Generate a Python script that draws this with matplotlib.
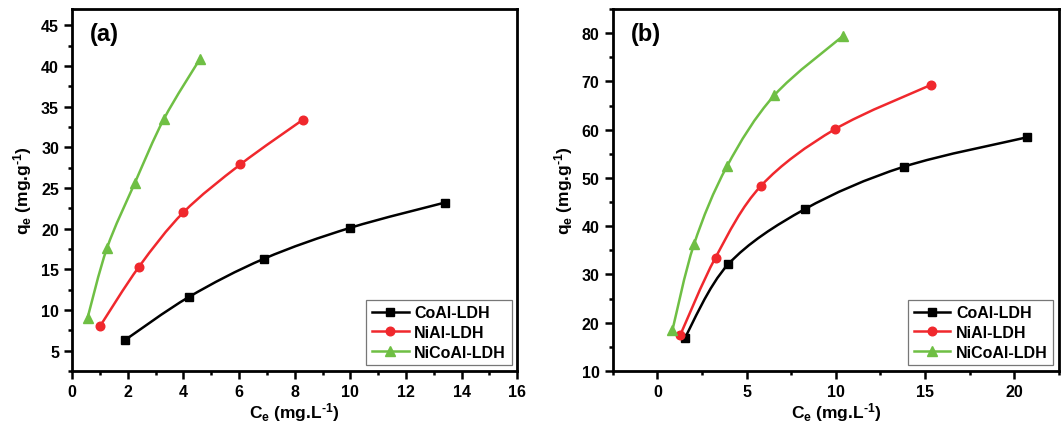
import numpy as np
import matplotlib
matplotlib.use("Agg")
import matplotlib.pyplot as plt
from matplotlib.path import Path
from matplotlib.patches import PathPatch
from matplotlib.lines import Line2D
from matplotlib.ticker import MultipleLocator

plt.rcParams["font.family"] = ["Liberation Sans", "DejaVu Sans"]
plt.rcParams["font.weight"] = "bold"
plt.rcParams["mathtext.fontset"] = "custom"
plt.rcParams["mathtext.rm"] = "Liberation Sans:bold"
plt.rcParams["mathtext.it"] = "Liberation Sans:bold"
plt.rcParams["mathtext.bf"] = "Liberation Sans:bold"
plt.rcParams["mathtext.default"] = "regular"

labels = ["CoAl-LDH", "NiAl-LDH", "NiCoAl-LDH"]
colors = ["black", "#f0282d", "#6fbf44"]
markers = ["s", "o", "^"]

# panel (a)
ce_a = [
    [1.9, 4.2, 6.9, 10.0, 13.4],
    [1.0, 2.4, 4.0, 6.05, 8.3],
    [0.55, 1.25, 2.25, 3.3, 4.6],
]
qe_a = [
    [6.3, 11.6, 16.3, 20.1, 23.2],
    [8.0, 15.3, 22.0, 27.9, 33.4],
    [9.0, 17.6, 25.6, 33.5, 40.9],
]

# panel (b)
ce_b = [
    [1.53, 3.97, 8.25, 13.8, 20.7],
    [1.29, 3.26, 5.82, 9.96, 15.35],
    [0.84, 2.05, 3.9, 6.55, 10.4],
]
qe_b = [
    [16.8, 32.1, 43.5, 52.3, 58.4],
    [17.5, 33.5, 48.4, 60.1, 69.3],
    [18.4, 36.2, 52.4, 67.1, 79.4],
]


def smooth_path(x, y):
    # Catmull-Rom through the points, drawn as cubic Bezier segments
    pts = np.column_stack([np.asarray(x, float), np.asarray(y, float)])
    verts = [pts[0]]
    codes = [Path.MOVETO]
    n = len(pts)
    for i in range(n - 1):
        p0 = pts[i - 1] if i > 0 else pts[i]
        p1 = pts[i]
        p2 = pts[i + 1]
        p3 = pts[i + 2] if i + 2 < n else pts[i + 1]
        verts += [p1 + (p2 - p0) / 6.0, p2 - (p3 - p1) / 6.0, p2]
        codes += [Path.CURVE4] * 3
    return Path(verts, codes)


def msize(m):
    return 7.5 if m == "^" else 6.2


def draw_panel(ax, ce, qe, tag):
    for x, y, c, m in zip(ce, qe, colors, markers):
        ax.add_patch(PathPatch(smooth_path(x, y), facecolor="none",
                               edgecolor=c, lw=1.8, zorder=2))
        ax.plot(x, y, ls="none", marker=m, color=c, ms=msize(m), zorder=3)

    for s in ax.spines.values():
        s.set_linewidth(2.0)
    ax.tick_params(which="both", direction="out", width=1.8, labelsize=11.5,
                   top=False, right=False, pad=4)
    ax.tick_params(which="major", length=5.5)
    ax.tick_params(which="minor", length=3)

    ax.set_xlabel("$C_e$ (mg.L$^{\u2010 1}$)", fontsize=12.5, fontweight="bold", labelpad=1)
    ax.set_ylabel("$q_e$ (mg.g$^{\u2010 1}$)", fontsize=12.5, fontweight="bold", labelpad=5)
    ax.text(0.04, 0.965, tag, transform=ax.transAxes, fontsize=17,
            fontweight="bold", va="top", ha="left")

    handles = [Line2D([], [], color=c, marker=m, lw=1.8, ms=msize(m))
               for c, m in zip(colors, markers)]
    leg = ax.legend(handles, labels, loc="lower right", fontsize=11.5,
                    frameon=True, fancybox=False, handlelength=2.3,
                    handletextpad=0.35, borderpad=0.35, labelspacing=0.3,
                    borderaxespad=0.35)
    leg.get_frame().set_edgecolor("#555555")
    leg.get_frame().set_linewidth(0.9)
    for t in leg.get_texts():
        t.set_fontweight("bold")


fig = plt.figure(figsize=(10.62, 4.35), dpi=100)
ax1 = fig.add_axes([0.068, 0.145, 0.419, 0.832])
ax2 = fig.add_axes([0.577, 0.145, 0.420, 0.832])

draw_panel(ax1, ce_a, qe_a, "(a)")
ax1.set_xlim(0, 16)
ax1.set_ylim(2.5, 47)
ax1.xaxis.set_major_locator(MultipleLocator(2))
ax1.xaxis.set_minor_locator(MultipleLocator(1))
ax1.yaxis.set_major_locator(MultipleLocator(5))
ax1.yaxis.set_minor_locator(MultipleLocator(2.5))

draw_panel(ax2, ce_b, qe_b, "(b)")
ax2.set_xlim(-2.5, 22.5)
ax2.set_ylim(10, 85)
ax2.xaxis.set_major_locator(MultipleLocator(5))
ax2.xaxis.set_minor_locator(MultipleLocator(2.5))
ax2.yaxis.set_major_locator(MultipleLocator(10))
ax2.yaxis.set_minor_locator(MultipleLocator(5))

for ax in (ax1, ax2):
    for lab in ax.get_xticklabels() + ax.get_yticklabels():
        lab.set_fontweight("bold")

fig.savefig("out.png", dpi=100)
